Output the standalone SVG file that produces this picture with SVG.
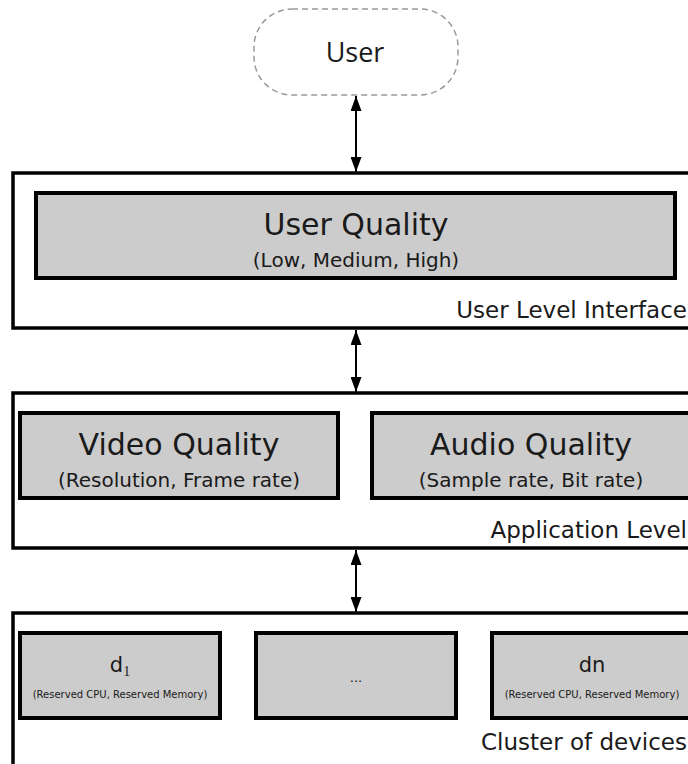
<svg xmlns="http://www.w3.org/2000/svg" width="688" height="764" viewBox="0 0 688 764">
  <style>
    .layer { fill: #ffffff; stroke: #000000; stroke-width: 3.5; }
    .block { fill: #cccccc; stroke: #000000; stroke-width: 4; }
    .t { font-family: "DejaVu Sans", "Liberation Sans", sans-serif; fill: #1a1a1a; text-anchor: middle; }
    .title { font-size: 30px; }
    .sub { font-size: 20px; }
    .tag { font-size: 23px; text-anchor: end; }
    .dev { font-size: 21px; }
    .res { font-size: 10px; }
    .link { stroke: #000000; stroke-width: 2; fill: none; marker-start: url(#head); marker-end: url(#head); }
  </style>
  <defs>
    <marker id="head" viewBox="0 0 15 11" refX="15" refY="5.5" markerWidth="15" markerHeight="11" markerUnits="userSpaceOnUse" orient="auto-start-reverse">
      <path d="M0,0 L15,5.5 L0,11 Z" fill="#000000"/>
    </marker>
  </defs>

  <rect width="688" height="764" fill="#ffffff"/>

  <!-- user terminal -->
  <g id="user">
    <rect x="254" y="9" width="204" height="86" rx="38" ry="38" fill="#ffffff" stroke="#9a9a9a" stroke-width="1.5" stroke-dasharray="6 4"/>
    <text x="355" y="62" font-family="Open Sans, Noto Sans, sans-serif" font-size="27" fill="#1a1a1a" text-anchor="middle">User</text>
  </g>

  <!-- user level interface layer -->
  <g id="user-level">
    <rect class="layer" x="13" y="173" width="690" height="155"/>
    <text class="t tag" x="687" y="318">User Level Interface</text>
  </g>
  <g id="user-quality">
    <rect class="block" x="36" y="193" width="639" height="85"/>
    <text class="t title" x="356" y="235">User Quality</text>
    <text class="t sub" x="356" y="267">(Low, Medium, High)</text>
  </g>

  <!-- application level layer -->
  <g id="application-level">
    <rect class="layer" x="13" y="393" width="690" height="155"/>
    <text class="t tag" x="687" y="538">Application Level</text>
  </g>
  <g id="video-quality">
    <rect class="block" x="20" y="413" width="318" height="85"/>
    <text class="t title" x="179" y="455">Video Quality</text>
    <text class="t sub" x="179" y="487">(Resolution, Frame rate)</text>
  </g>
  <g id="audio-quality">
    <rect class="block" x="372" y="413" width="320" height="85"/>
    <text class="t title" x="531" y="455">Audio Quality</text>
    <text class="t sub" x="531" y="487">(Sample rate, Bit rate)</text>
  </g>

  <!-- device cluster layer -->
  <g id="cluster">
    <rect class="layer" x="13" y="613" width="690" height="170"/>
    <text class="t tag" x="687" y="750">Cluster of devices</text>
  </g>
  <g id="device-1">
    <rect class="block" x="20" y="633" width="200" height="85"/>
    <text class="t dev" x="120" y="672">d<tspan font-family="Liberation Serif, serif" font-size="14" dy="4">1</tspan></text>
    <text class="t res" x="120" y="698">(Reserved CPU, Reserved Memory)</text>
  </g>
  <g id="device-more">
    <rect class="block" x="256" y="633" width="200" height="85"/>
    <text class="t" x="356" y="682" font-size="13" fill="#555555">...</text>
  </g>
  <g id="device-n">
    <rect class="block" x="492" y="633" width="200" height="85"/>
    <text class="t dev" x="592" y="672">dn</text>
    <text class="t res" x="592" y="698">(Reserved CPU, Reserved Memory)</text>
  </g>

  <!-- bidirectional links between layers -->
  <g id="connectors">
    <line class="link" x1="356" y1="96" x2="356" y2="172"/>
    <line class="link" x1="356" y1="330" x2="356" y2="392"/>
    <line class="link" x1="356" y1="550" x2="356" y2="612"/>
  </g>
</svg>
